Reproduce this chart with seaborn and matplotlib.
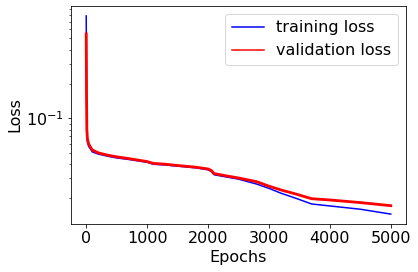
import numpy as np
import pandas as pd
import matplotlib
matplotlib.use('Agg')
import matplotlib.pyplot as plt
import seaborn as sns

# ========== DATA ==========
epochs = [0, 5, 10, 20, 40, 70, 100, 200, 350, 500, 700, 1000, 1100, 1300,
          1500, 1800, 2000, 2050, 2100, 2300, 2500, 2800, 3000, 3200, 3450,
          3700, 4000, 4500, 5000]
train_loss = [0.787, 0.20, 0.075, 0.062, 0.057, 0.054, 0.051, 0.0488, 0.0468,
              0.0452, 0.0438, 0.0414, 0.0398, 0.0392, 0.0383, 0.0370, 0.0356,
              0.0345, 0.0322, 0.0308, 0.0295, 0.0267, 0.0245, 0.0222, 0.0200,
              0.0179, 0.0172, 0.0161, 0.0146]
val_loss = [0.548, 0.16, 0.080, 0.066, 0.060, 0.056, 0.053, 0.0500, 0.0478,
            0.0462, 0.0446, 0.0420, 0.0405, 0.0398, 0.0388, 0.0375, 0.0362,
            0.0352, 0.0330, 0.0315, 0.0302, 0.0280, 0.0256, 0.0237, 0.0218,
            0.0199, 0.0194, 0.0184, 0.0173]

df = pd.DataFrame({'epoch': epochs, 'train': train_loss, 'val': val_loss})

# ========== FIGURE ==========
plt.rcParams['font.family'] = ['DejaVu Sans']
fig = plt.figure(figsize=(418 / 72, 272 / 72), dpi=72)
ax = fig.add_axes([71 / 418, 48 / 272, 335 / 418, 218 / 272])

sns.lineplot(data=df, x='epoch', y='train', color='blue', lw=1.5,
             label='training loss', ax=ax)
sns.lineplot(data=df, x='epoch', y='val', color='red', lw=2.8,
             label='validation loss', ax=ax)

ax.set_yscale('log')
ax.set_xticks([0, 1000, 2000, 3000, 4000, 5000])
ax.set_xlabel('Epochs', fontsize=16)
ax.set_ylabel('Loss', fontsize=16)
ax.tick_params(labelsize=16)
leg = ax.legend(fontsize=16, loc='upper right')
for line in leg.get_lines():
    line.set_linewidth(1.5)

fig.savefig('out.png', dpi=72)
plt.close()
